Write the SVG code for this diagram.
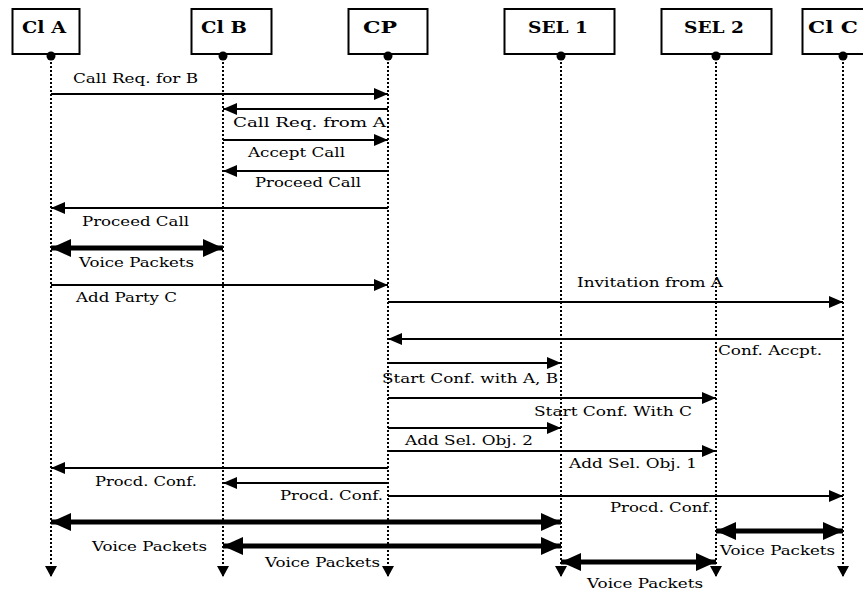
<svg xmlns="http://www.w3.org/2000/svg" width="863" height="592" viewBox="0 0 863 592">
  <style>
    .box { fill: #fff; stroke: #000; stroke-width: 2; }
    .title { font-family: "DejaVu Serif", "Liberation Serif", serif; font-weight: bold; font-size: 16.5px; fill: #000; }
    .life { stroke: #000; stroke-width: 2; stroke-dasharray: 2 2; fill: none; marker-end: url(#down); }
    .msg { stroke: #000; stroke-width: 2; fill: none; marker-end: url(#head); }
    .voice { stroke: #000; stroke-width: 5; fill: none; marker-start: url(#big); marker-end: url(#big); }
    .lbl { font-family: "DejaVu Serif", "Liberation Serif", serif; font-size: 13.5px; fill: #000; }
  </style>
  <defs>
    <marker id="head" markerUnits="userSpaceOnUse" viewBox="0 0 14 12" refX="14" refY="6" markerWidth="14" markerHeight="12" orient="auto">
      <path d="M0,0 L14,6 L0,12 z" fill="#000"/>
    </marker>
    <marker id="big" markerUnits="userSpaceOnUse" viewBox="0 0 20 18" refX="20" refY="9" markerWidth="20" markerHeight="18" orient="auto-start-reverse">
      <path d="M0,0 L20,9 L0,18 z" fill="#000"/>
    </marker>
    <marker id="down" markerUnits="userSpaceOnUse" viewBox="0 0 11 12" refX="11" refY="6" markerWidth="11" markerHeight="12" orient="auto">
      <path d="M0,0 L11,6 L0,12 z" fill="#000"/>
    </marker>
  </defs>

  <rect width="863" height="592" fill="#fff"/>

  <!-- participants -->
  <g id="clA">
    <rect class="box" x="12.5" y="9" width="67" height="45"/>
    <text class="title" x="22" y="33" textLength="44" lengthAdjust="spacingAndGlyphs">Cl A</text>
    <line class="life" x1="51" y1="58" x2="51" y2="577"/>
    <circle cx="51" cy="56" r="4.5"/>
  </g>
  <g id="clB">
    <rect class="box" x="191.5" y="9" width="80" height="45"/>
    <text class="title" x="201" y="33" textLength="46" lengthAdjust="spacingAndGlyphs">Cl B</text>
    <line class="life" x1="223" y1="58" x2="223" y2="577"/>
    <circle cx="223" cy="56" r="4.5"/>
  </g>
  <g id="cp">
    <rect class="box" x="348.5" y="9" width="79" height="45"/>
    <text class="title" x="363" y="33" textLength="34" lengthAdjust="spacingAndGlyphs">CP</text>
    <line class="life" x1="388" y1="58" x2="388" y2="577"/>
    <circle cx="388" cy="56" r="4.5"/>
  </g>
  <g id="sel1">
    <rect class="box" x="504.5" y="9" width="110" height="45"/>
    <text class="title" x="528" y="33" textLength="60" lengthAdjust="spacingAndGlyphs">SEL 1</text>
    <line class="life" x1="561" y1="58" x2="561" y2="577"/>
    <circle cx="561" cy="56" r="4.5"/>
  </g>
  <g id="sel2">
    <rect class="box" x="661.5" y="9" width="110" height="45"/>
    <text class="title" x="684" y="33" textLength="60" lengthAdjust="spacingAndGlyphs">SEL 2</text>
    <line class="life" x1="716" y1="58" x2="716" y2="577"/>
    <circle cx="716" cy="56" r="4.5"/>
  </g>
  <g id="clC">
    <rect class="box" x="802.5" y="9" width="80" height="45"/>
    <text class="title" x="808" y="33" textLength="50" lengthAdjust="spacingAndGlyphs">Cl C</text>
    <line class="life" x1="843" y1="58" x2="843" y2="577"/>
    <circle cx="843" cy="56" r="4.5"/>
  </g>

  <!-- messages -->
  <g id="connectors">
    <line class="msg" x1="51" y1="94" x2="388" y2="94"/>
    <line class="msg" x1="388" y1="109" x2="223" y2="109"/>
    <line class="msg" x1="223" y1="140" x2="388" y2="140"/>
    <line class="msg" x1="388" y1="171" x2="223" y2="171"/>
    <line class="msg" x1="388" y1="208" x2="51" y2="208"/>
    <line class="voice" x1="51" y1="248" x2="223" y2="248"/>
    <line class="msg" x1="51" y1="285" x2="388" y2="285"/>
    <line class="msg" x1="388" y1="302" x2="843" y2="302"/>
    <line class="msg" x1="843" y1="339" x2="388" y2="339"/>
    <line class="msg" x1="388" y1="363" x2="561" y2="363"/>
    <line class="msg" x1="388" y1="398" x2="716" y2="398"/>
    <line class="msg" x1="388" y1="428" x2="561" y2="428"/>
    <line class="msg" x1="388" y1="451" x2="716" y2="451"/>
    <line class="msg" x1="388" y1="468" x2="51" y2="468"/>
    <line class="msg" x1="388" y1="483" x2="223" y2="483"/>
    <line class="msg" x1="388" y1="496" x2="843" y2="496"/>
    <line class="voice" x1="51" y1="522" x2="561" y2="522"/>
    <line class="voice" x1="716" y1="531" x2="843" y2="531"/>
    <line class="voice" x1="223" y1="546" x2="561" y2="546"/>
    <line class="voice" x1="561" y1="562" x2="716" y2="562"/>
  </g>

  <!-- message labels -->
  <g id="labels">
    <text class="lbl" x="73" y="83" textLength="125" lengthAdjust="spacingAndGlyphs">Call Req. for B</text>
    <text class="lbl" x="233" y="127" textLength="153" lengthAdjust="spacingAndGlyphs">Call Req. from A</text>
    <text class="lbl" x="248" y="157" textLength="97" lengthAdjust="spacingAndGlyphs">Accept Call</text>
    <text class="lbl" x="255" y="187" textLength="106" lengthAdjust="spacingAndGlyphs">Proceed Call</text>
    <text class="lbl" x="82" y="226" textLength="107" lengthAdjust="spacingAndGlyphs">Proceed Call</text>
    <text class="lbl" x="79" y="267" textLength="115" lengthAdjust="spacingAndGlyphs">Voice Packets</text>
    <text class="lbl" x="76" y="302" textLength="101" lengthAdjust="spacingAndGlyphs">Add Party C</text>
    <text class="lbl" x="577" y="287" textLength="146" lengthAdjust="spacingAndGlyphs">Invitation from A</text>
    <text class="lbl" x="718" y="355" textLength="104" lengthAdjust="spacingAndGlyphs">Conf. Accpt.</text>
    <text class="lbl" x="382" y="383" textLength="176" lengthAdjust="spacingAndGlyphs">Start Conf. with A, B</text>
    <text class="lbl" x="534" y="416" textLength="158" lengthAdjust="spacingAndGlyphs">Start Conf. With C</text>
    <text class="lbl" x="405" y="445" textLength="128" lengthAdjust="spacingAndGlyphs">Add Sel. Obj. 2</text>
    <text class="lbl" x="569" y="468" textLength="128" lengthAdjust="spacingAndGlyphs">Add Sel. Obj. 1</text>
    <text class="lbl" x="95" y="486" textLength="102" lengthAdjust="spacingAndGlyphs">Procd. Conf.</text>
    <text class="lbl" x="280" y="500" textLength="103" lengthAdjust="spacingAndGlyphs">Procd. Conf.</text>
    <text class="lbl" x="610" y="512" textLength="103" lengthAdjust="spacingAndGlyphs">Procd. Conf.</text>
    <text class="lbl" x="92" y="551" textLength="115" lengthAdjust="spacingAndGlyphs">Voice Packets</text>
    <text class="lbl" x="720" y="555" textLength="115" lengthAdjust="spacingAndGlyphs">Voice Packets</text>
    <text class="lbl" x="265" y="567" textLength="115" lengthAdjust="spacingAndGlyphs">Voice Packets</text>
    <text class="lbl" x="587" y="588" textLength="116" lengthAdjust="spacingAndGlyphs">Voice Packets</text>
  </g>
</svg>
